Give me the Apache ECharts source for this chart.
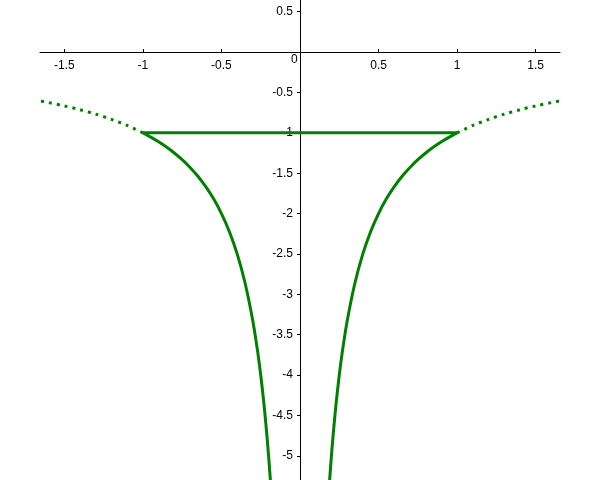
<!DOCTYPE html>
<html><head><meta charset="utf-8">
<script src="https://cdn.jsdelivr.net/npm/echarts@6/dist/echarts.min.js"></script>
<style>html,body{margin:0;padding:0;background:#fff}#c{width:600px;height:480px}</style>
</head><body><div id="c"></div>
<script>
// Tick labels
var xTicks = [-1.5, -1, -0.5, 0.5, 1, 1.5];
var yTicks = [0.5, -0.5, -1, -1.5, -2, -2.5, -3, -3.5, -4, -4.5, -5];
// Solid right branch
var rightX = [1, 0.95, 0.9, 0.85, 0.8, 0.75, 0.7, 0.65, 0.6, 0.55, 0.5, 0.45, 0.4, 0.35, 0.3, 0.27, 0.25, 0.23, 0.21, 0.2, 0.19, 0.187];
var rightY = [-1, -1.053, -1.111, -1.176, -1.25, -1.333, -1.429, -1.538, -1.667, -1.818, -2, -2.222, -2.5, -2.857, -3.333, -3.704, -4, -4.348, -4.762, -5, -5.263, -5.348];
// Solid left branch
var leftX = [-1, -0.95, -0.9, -0.85, -0.8, -0.75, -0.7, -0.65, -0.6, -0.55, -0.5, -0.45, -0.4, -0.35, -0.3, -0.27, -0.25, -0.23, -0.21, -0.2, -0.19, -0.187];
var leftY = [-1, -1.053, -1.111, -1.176, -1.25, -1.333, -1.429, -1.538, -1.667, -1.818, -2, -2.222, -2.5, -2.857, -3.333, -3.704, -4, -4.348, -4.762, -5, -5.263, -5.348];
// Dotted outer branches
var outRX = [1, 1.1, 1.2, 1.3, 1.4, 1.5, 1.6, 1.7];
var outRY = [-1, -0.909, -0.833, -0.769, -0.714, -0.667, -0.625, -0.588];
var outLX = [-1, -1.1, -1.2, -1.3, -1.4, -1.5, -1.6, -1.7];
var outLY = [-1, -0.909, -0.833, -0.769, -0.714, -0.667, -0.625, -0.588];
// Horizontal segment
var segX = [-1, 1];
var segY = [-1, -1];

function zip(a, b) { return a.map(function (v, i) { return [v, b[i]]; }); }
var green = '#008000';
var font = { fontFamily: 'Liberation Sans, Arial, sans-serif', fontSize: 12, color: '#000' };

var chart = echarts.init(document.getElementById('c'), null, { renderer: 'canvas' });
chart.setOption({
  animation: false,
  backgroundColor: '#fff',
  grid: { left: 40, right: 40, top: 0, bottom: 0, containLabel: false, outerBoundsMode: 'none' },
  xAxis: {
    type: 'value', min: -1.655, max: 1.655, position: 'bottom', offset: -428,
    splitLine: { show: false },
    axisLine: { onZero: false, lineStyle: { color: '#000', width: 1 } },
    axisTick: { show: true, length: 3, inside: true, customValues: xTicks, lineStyle: { color: '#000' } },
    axisLabel: Object.assign({ show: true, margin: 8, customValues: xTicks, showMinLabel: true, showMaxLabel: true }, font)
  },
  yAxis: {
    type: 'value', min: -5.3, max: 0.645, position: 'left', offset: -260,
    splitLine: { show: false },
    axisLine: { onZero: false, lineStyle: { color: '#000', width: 1 } },
    axisTick: { show: true, length: 3, customValues: yTicks, lineStyle: { color: '#000' } },
    axisLabel: Object.assign({ show: true, margin: 7, customValues: yTicks }, font)
  },
  graphic: [{
    type: 'text', left: 291, top: 54,
    style: { text: '0', fontFamily: 'Liberation Sans, Arial, sans-serif', fontSize: 12, fill: '#000' }
  }],
  series: [
    { type: 'line', data: zip(rightX, rightY), showSymbol: false, smooth: 0.3, lineStyle: { color: green, width: 3 } },
    { type: 'line', data: zip(leftX, leftY), showSymbol: false, smooth: 0.3, lineStyle: { color: green, width: 3 } },
    { type: 'line', data: zip(segX, segY), showSymbol: false, lineStyle: { color: green, width: 3 } },
    { type: 'line', data: zip(outRX, outRY), showSymbol: false, smooth: 0.3, lineStyle: { color: green, width: 3, type: [3, 5], cap: 'butt' } },
    { type: 'line', data: zip(outLX, outLY), showSymbol: false, smooth: 0.3, lineStyle: { color: green, width: 3, type: [3, 5], cap: 'butt' } }
  ]
});
</script>
</body></html>
